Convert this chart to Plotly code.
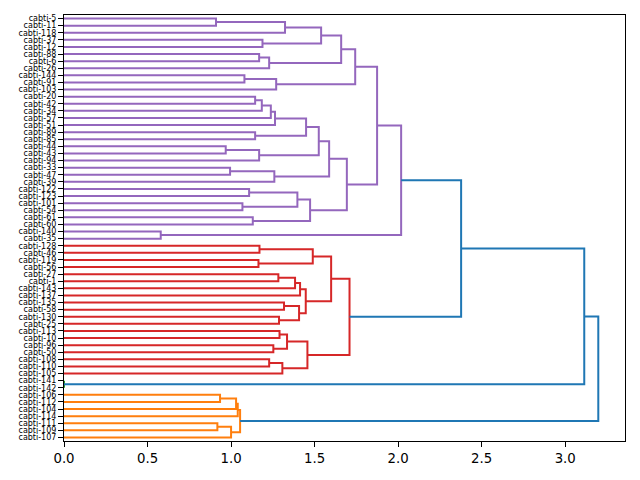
import plotly.graph_objects as go

# Leaf labels, top to bottom as drawn
leaf_labels = [
    "cabti-5", "cabti-11", "cabti-118", "cabti-37", "cabti-12", "cabti-88", "cabti-6",
    "cabti-26", "cabti-144", "cabti-91", "cabti-103", "cabti-20", "cabti-42", "cabti-34",
    "cabti-57", "cabti-51", "cabti-89", "cabti-85", "cabti-44", "cabti-43", "cabti-94",
    "cabti-33", "cabti-47", "cabti-39", "cabti-122", "cabti-123", "cabti-101", "cabti-54",
    "cabti-61", "cabti-60", "cabti-140", "cabti-35",
    "cabti-128", "cabti-46", "cabti-119", "cabti-56", "cabti-27", "cabti-1", "cabti-143",
    "cabti-137", "cabti-135", "cabti-58", "cabti-130", "cabti-25", "cabti-113", "cabti-10",
    "cabti-96", "cabti-50", "cabti-108", "cabti-110", "cabti-105",
    "cabti-141", "cabti-142",
    "cabti-106", "cabti-112", "cabti-104", "cabti-114", "cabti-111", "cabti-109", "cabti-107",
]

# Merges: (left, right, distance, new cluster name)
purple_links = [
    ("cabti-5", "cabti-11", 0.910, "p1"),
    ("p1", "cabti-118", 1.323, "p2"),
    ("cabti-37", "cabti-12", 1.188, "p3"),
    ("p2", "p3", 1.539, "p4"),
    ("cabti-88", "cabti-6", 1.168, "p5"),
    ("p5", "cabti-26", 1.228, "p6"),
    ("p4", "p6", 1.659, "p7"),
    ("cabti-144", "cabti-91", 1.080, "p8"),
    ("p8", "cabti-103", 1.270, "p9"),
    ("p7", "p9", 1.743, "p10"),
    ("cabti-20", "cabti-42", 1.144, "p11"),
    ("p11", "cabti-34", 1.184, "p12"),
    ("p12", "cabti-57", 1.238, "p13"),
    ("p13", "cabti-51", 1.263, "p14"),
    ("cabti-89", "cabti-85", 1.144, "p15"),
    ("p14", "p15", 1.449, "p16"),
    ("cabti-44", "cabti-43", 0.968, "p17"),
    ("p17", "cabti-94", 1.168, "p18"),
    ("p16", "p18", 1.525, "p19"),
    ("cabti-33", "cabti-47", 0.994, "p20"),
    ("p20", "cabti-39", 1.259, "p21"),
    ("p19", "p21", 1.587, "p22"),
    ("cabti-122", "cabti-123", 1.108, "p23"),
    ("cabti-101", "cabti-54", 1.068, "p24"),
    ("p23", "p24", 1.397, "p25"),
    ("cabti-61", "cabti-60", 1.130, "p26"),
    ("p25", "p26", 1.473, "p27"),
    ("p22", "p27", 1.693, "p28"),
    ("p10", "p28", 1.874, "p29"),
    ("cabti-140", "cabti-35", 0.579, "p30"),
    ("p29", "p30", 2.018, "P"),
]

red_links = [
    ("cabti-128", "cabti-46", 1.170, "r1"),
    ("cabti-119", "cabti-56", 1.164, "r2"),
    ("r1", "r2", 1.489, "r3"),
    ("cabti-27", "cabti-1", 1.283, "r4"),
    ("r4", "cabti-143", 1.383, "r5"),
    ("r5", "cabti-137", 1.413, "r6"),
    ("cabti-135", "cabti-58", 1.317, "r7"),
    ("cabti-130", "cabti-25", 1.287, "r8"),
    ("r7", "r8", 1.407, "r9"),
    ("r6", "r9", 1.447, "r10"),
    ("r3", "r10", 1.599, "r11"),
    ("cabti-113", "cabti-10", 1.290, "r12"),
    ("cabti-96", "cabti-50", 1.253, "r13"),
    ("r12", "r13", 1.335, "r14"),
    ("cabti-108", "cabti-110", 1.228, "r15"),
    ("r15", "cabti-105", 1.307, "r16"),
    ("r14", "r16", 1.457, "r17"),
    ("r11", "r17", 1.709, "R"),
]

green_links = [
    ("cabti-141", "cabti-142", 0.0, "G"),
]

orange_links = [
    ("cabti-106", "cabti-112", 0.934, "o1"),
    ("o1", "cabti-104", 1.030, "o2"),
    ("o2", "cabti-114", 1.040, "o3"),
    ("cabti-111", "cabti-109", 0.918, "o4"),
    ("o4", "cabti-107", 1.000, "o5"),
    ("o3", "o5", 1.054, "O"),
]

blue_links = [
    ("P", "R", 2.377, "b1"),
    ("b1", "G", 3.114, "b2"),
    ("b2", "O", 3.198, "root"),
]

link_groups = [
    (purple_links, "#9467bd"),
    (red_links, "#d62728"),
    (green_links, "#2ca02c"),
    (orange_links, "#ff7f0e"),
    (blue_links, "#1f77b4"),
]

# leaf positions like scipy: 5, 15, 25 ... from the bottom
n = len(leaf_labels)
pos = {lab: 5 + 10 * (n - 1 - i) for i, lab in enumerate(leaf_labels)}
hgt = {lab: 0.0 for lab in leaf_labels}

all_links = []
for links, col in link_groups:
    for l in links:
        all_links.append((l, col))

# resolve in dependency order
pending = list(all_links)
segments = {}
while pending:
    rest = []
    for (a, b, h, name), col in pending:
        if a in pos and b in pos:
            ya, yb = pos[a], pos[b]
            xs = [hgt[a], h, h, hgt[b], None]
            ys = [ya, ya, yb, yb, None]
            segments.setdefault(col, ([], []))
            segments[col][0].extend(xs)
            segments[col][1].extend(ys)
            pos[name] = (ya + yb) / 2
            hgt[name] = h
        else:
            rest.append(((a, b, h, name), col))
    pending = rest

fig = go.Figure()
for col in ["#2ca02c", "#ff7f0e", "#d62728", "#9467bd", "#1f77b4"]:
    if col in segments:
        xs, ys = segments[col]
        fig.add_trace(go.Scatter(x=xs, y=ys, mode="lines",
                                 line=dict(color=col, width=2),
                                 hoverinfo="skip", showlegend=False))

max_h = max(hgt.values())
x_ticks = [0.0, 0.5, 1.0, 1.5, 2.0, 2.5, 3.0]

fig.update_layout(
    width=640, height=480,
    margin=dict(l=64, r=15, t=15, b=39),
    paper_bgcolor="white", plot_bgcolor="white",
    font=dict(family="DejaVu Sans", color="black"),
    showlegend=False,
)
fig.update_xaxes(
    range=[0, max_h * 1.05],
    tickvals=x_ticks, ticktext=[f"{v:.1f}" for v in x_ticks],
    tickfont=dict(size=13.3, family="DejaVu Sans"),
    ticks="outside", ticklen=5, tickcolor="black", tickwidth=1,
    showline=True, linecolor="black", linewidth=1, mirror=True,
    showgrid=False, zeroline=False,
)
fig.update_yaxes(
    range=[0, 10 * n],
    tickvals=[pos[lab] for lab in leaf_labels], ticktext=leaf_labels,
    tickfont=dict(size=8, family="DejaVu Sans"),
    ticks="outside", ticklen=5, tickcolor="black", tickwidth=1,
    showline=True, linecolor="black", linewidth=1, mirror=True,
    showgrid=False, zeroline=False,
)

fig.write_html("out.html")
